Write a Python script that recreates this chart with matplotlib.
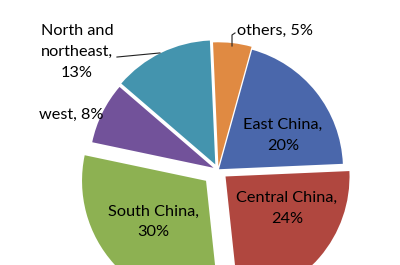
import matplotlib
matplotlib.use("Agg")
import matplotlib.pyplot as plt

# data (clockwise from the top)
regions = ["others", "East China", "Central China", "South China", "west",
           "North and\nnortheast"]
shares = [5, 20, 24, 30, 8, 13]
colors = ["#E08A42", "#4A67AB", "#B0473F", "#8DB152", "#72529A", "#4494AE"]
explode = [0.03, 0.01, 0.08, 0.13, 0.04, 0.05]

plt.rcParams["font.family"] = ["Lato", "DejaVu Sans"]

fig = plt.figure(figsize=(4, 2.65), dpi=100)
# pie centre at about (218, 170) px, radius about 124 px
R = 124.0
span = 3.2 * R
ax = fig.add_axes([(218 - span / 2) / 400, (95 - span / 2) / 265,
                   span / 400, span / 265])

wedges, _ = ax.pie(shares, colors=colors, explode=explode, startangle=92.5,
                   counterclock=False, radius=1.0,
                   wedgeprops=dict(linewidth=0))
ax.set_xlim(-1.6, 1.6)
ax.set_ylim(-1.6, 1.6)
ax.set_aspect("equal")
ax.axis("off")

# label positions, data units relative to the pie centre
label_pos = [(0.46, 1.12), (0.524, 0.28), (0.556, -0.31), (-0.524, -0.42),
             (-1.185, 0.444), (-1.137, 0.952)]
for name, val, (x, y) in zip(regions, shares, label_pos):
    ax.text(x, y, f"{name},\n{val}%" if name not in ("others", "west")
            else f"{name}, {val}%",
            ha="center", va="center", fontsize=11.7, color="#000000",
            linespacing=1.6)

# leader lines
ax.plot([-0.815, -0.468], [0.911, 0.944], color="#222222", lw=0.8)
ax.plot([0.113, 0.113, 0.137], [1.0, 1.089, 1.105], color="#222222", lw=0.8)

fig.savefig("out.png", dpi=100)
